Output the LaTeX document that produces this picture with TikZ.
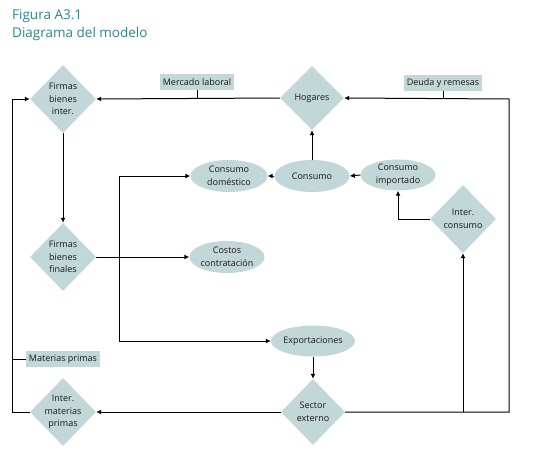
\documentclass[tikz,border=0pt]{standalone}
\usepackage{fontspec}
\setmainfont{Open Sans}
\usetikzlibrary{shapes.geometric,arrows.meta}
\definecolor{boxfill}{HTML}{C2D7D8}
\definecolor{titlecol}{HTML}{2A8496}
\begin{document}
\begin{tikzpicture}[x=1pt, y=-1pt,
    every node/.style={font=\fontsize{9}{12.5}\selectfont, text=black!90},
    agent/.style={diamond, fill=boxfill, minimum width=66pt, minimum height=68pt, inner sep=-7pt, align=center},
    flow/.style={ellipse, fill=boxfill, minimum width=75pt, minimum height=32pt, inner sep=0pt, align=center},
    tag/.style={rectangle, fill=boxfill, inner sep=2.5pt, minimum height=16pt},
    link/.style={line width=1pt, -{Latex[length=5pt,width=5pt]}},
    wire/.style={line width=1pt}]
    \useasboundingbox (0,0) rectangle (542,458);

    % Title
    \node[anchor=base west, font=\fontsize{13.5}{16}\selectfont, text=titlecol, inner sep=0pt] (title1) at (12,19) {Figura A3.1};
    \node[anchor=base west, font=\fontsize{13.5}{16}\selectfont, text=titlecol, inner sep=0pt] (title2) at (12,37) {Diagrama del modelo};

    % Define agents and flows with coordinates
    \node[agent] (fbi) at (63,99) {Firmas\\bienes\\inter.};
    \node[agent] (fbf) at (63,257) {Firmas\\bienes\\finales};
    \node[agent] (imp) at (63,412) {Inter.\\materias\\primas};
    \node[agent, minimum width=64pt, minimum height=64pt] (hog) at (312,98) {Hogares};
    \node[agent, minimum width=64pt, minimum height=66pt] (se) at (313,412) {Sector\\externo};
    \node[agent] (ic) at (463,219) {Inter.\\consumo};
    \node[flow] (cons) at (312,176) {Consumo};
    \node[flow, minimum width=77pt] (cdom) at (229,176) {Consumo\\doméstico};
    \node[flow, minimum height=31pt] (cimp) at (398,175) {Consumo\\importado};
    \node[flow] (cost) at (227,257) {Costos\\contratación};
    \node[flow, minimum height=31pt] (exp) at (313,341) {Exportaciones};

    % Labels on the links
    \node[tag] (ml) at (197,82) {Mercado laboral};
    \node[tag] (dr) at (443,83) {Deuda y remesas};
    \node[tag] (mp) at (63,359) {Materias primas};

    % Corner points
    \coordinate (lft) at (12,99);
    \coordinate (rgt) at (509,99);
    \coordinate (vt) at (119,176);
    \coordinate (vb) at (119,341);

    % Draw links between the nodes
    \draw[link] (hog.west) -- (fbi.east);
    \draw[wire] (ml.south) -- (ml.south |- fbi.east);
    \draw[link] (se.east) -| (rgt) -- (hog.east);
    \draw[wire] (dr.south) -- (dr.south |- hog.east);
    \draw[link] (ic.south |- se.east) -- (ic.south);
    \draw[link] (ic.west) -| (cimp.south);
    \draw[link] (cimp.west) -- (cons.east);
    \draw[link] (cons.north) -- (hog.south);
    \draw[link] (cons.west) -- (cdom.east);
    \draw[link] (fbi.south) -- (fbf.north);
    \draw[link] (fbf.east) -- (cost.west);
    \draw[link, {Latex[length=5pt,width=5pt]}-{Latex[length=5pt,width=5pt]}] (cdom.west) -- (vt) -- (vb) -- (exp.west);
    \draw[link] (exp.south) -- (se.north);
    \draw[link] (se.west) -- (imp.east);
    \draw[link] (imp.west) -| (lft) -- (fbi.west);
    \draw[wire] (mp.west) -- (mp.west -| lft);
\end{tikzpicture}
\end{document}
